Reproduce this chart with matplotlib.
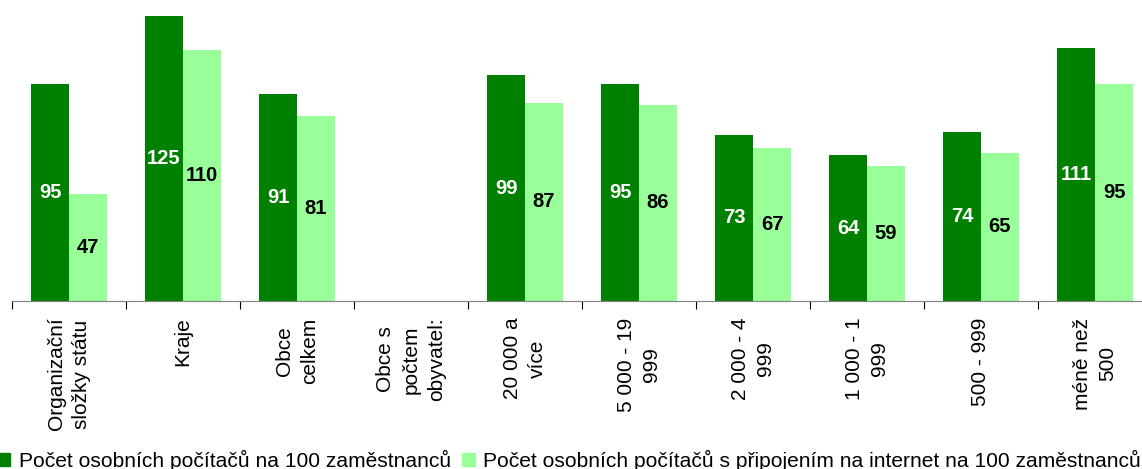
import numpy as np
import matplotlib
matplotlib.use("Agg")
import matplotlib.pyplot as plt
from matplotlib.patches import Patch

plt.rcParams["font.family"] = ["Liberation Sans", "DejaVu Sans"]

categories = [
    "Organizační\nsložky státu",
    "Kraje",
    "Obce\ncelkem",
    "Obce s\npočtem\nobyvatel:",
    "20 000 a\nvíce",
    "5 000 - 19\n999",
    "2 000 - 4\n999",
    "1 000 - 1\n999",
    "500 - 999",
    "méně než\n500",
]
pcs = [95, 125, 91, None, 99, 95, 73, 64, 74, 111]
pcs_internet = [47, 110, 81, None, 87, 86, 67, 59, 65, 95]
series_names = [
    "Počet osobních počítačů na 100 zaměstnanců",
    "Počet osobních počítačů s připojením na internet na 100 zaměstnanců",
]

DARK = "#008000"
LIGHT = "#99FF99"

W, H = 1142, 469
fig = plt.figure(figsize=(W / 100, H / 100), dpi=100)
ax = fig.add_axes([12 / W, (H - 301) / H, 1140 / W, 301 / H])

x = np.arange(len(categories))
bw = 1 / 3
for vals, off, col, tcol in [(pcs, -bw / 2, DARK, "white"), (pcs_internet, bw / 2, LIGHT, "black")]:
    for xi, v in zip(x, vals):
        if v is None:
            continue
        ax.bar(xi + off, v, width=bw, color=col, linewidth=0)
        ax.text(xi + off, v / 2, str(v), ha="center", va="center",
                color=tcol, fontsize=14.5, fontweight="bold")

ax.set_xlim(-0.5, len(categories) - 0.5)
ax.set_ylim(0, 301 / 2.28)

for s in ["top", "right", "left"]:
    ax.spines[s].set_visible(False)
ax.spines["bottom"].set_color("#808080")
ax.set_yticks([])

# category separators as major ticks, names on minor ticks
ax.set_xticks(np.arange(len(categories) + 1) - 0.5)
ax.set_xticklabels([])
ax.tick_params(axis="x", which="major", length=6, color="black", direction="out")
ax.set_xticks(x, minor=True)
ax.set_xticklabels(categories, minor=True, rotation=90, va="top", ha="center",
                   multialignment="center", fontsize=15, linespacing=1.45)
ax.tick_params(axis="x", which="minor", length=0, pad=12)

handles = [Patch(color=DARK), Patch(color=LIGHT)]
fig.legend(handles, series_names, loc="lower left", bbox_to_anchor=(-0.002, -0.004),
           ncol=2, frameon=False, fontsize=15.1, handlelength=0.6, handleheight=0.6,
           handletextpad=0.4, columnspacing=0.55, borderpad=0, borderaxespad=0)

fig.savefig("out.png", dpi=100)
